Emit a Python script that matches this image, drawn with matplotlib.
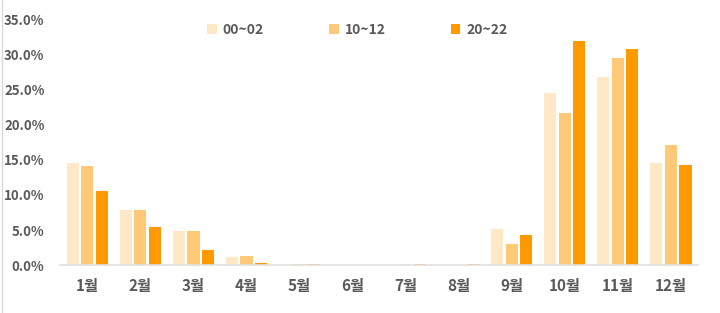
import numpy as np
import matplotlib
matplotlib.use("Agg")
import matplotlib.pyplot as plt
from matplotlib.ticker import FuncFormatter

plt.rcParams['font.family'] = ['Noto Sans CJK KR', 'DejaVu Sans']

# -------------------
# 데이터
# -------------------
months = ['1월', '2월', '3월', '4월', '5월', '6월', '7월', '8월', '9월', '10월', '11월', '12월']
series_names = ['00~02', '10~12', '20~22']
s_00_02 = [14.6, 7.8, 4.8, 1.1, 0.05, 0.0, 0.05, 0.05, 5.1, 24.5, 26.8, 14.5]
s_10_12 = [14.1, 7.9, 4.8, 1.3, 0.1, 0.0, 0.0, 0.0, 3.0, 21.7, 29.5, 17.1]
s_20_22 = [10.5, 5.4, 2.2, 0.3, 0.15, 0.0, 0.15, 0.15, 4.3, 31.9, 30.8, 14.3]
colors = ['#FFE8C6', '#FFC978', '#FF9900']

# -------------------
# 시각화
# -------------------
fig = plt.figure(figsize=(7.2, 3.13), dpi=100)
ax = fig.add_axes([0.083, 0.153, 0.887, 0.784])

x = np.arange(len(months))
w = 0.23
step = 0.275
for i, (vals, name, c) in enumerate(zip([s_00_02, s_10_12, s_20_22], series_names, colors)):
    ax.bar(x + (i - 1) * step, np.array(vals) / 100, width=w, color=c, label=name, zorder=2)

ax.set_xlim(-0.52, 11.52)
ax.set_ylim(0, 0.35)
ax.set_yticks(np.arange(0, 0.351, 0.05))
ax.yaxis.set_major_formatter(FuncFormatter(lambda v, p: f"{v*100:.1f}%"))
ax.set_xticks(x)
ax.set_xticklabels(months)

for s in ['top', 'right', 'left']:
    ax.spines[s].set_visible(False)
ax.spines['bottom'].set_color('#E0E0E0')
ax.spines['bottom'].set_linewidth(1.2)
ax.tick_params(axis='both', length=0, labelcolor='#595959', labelsize=9.5)
ax.tick_params(axis='x', labelsize=11, pad=9)
ax.tick_params(axis='y', pad=11)
for lab in ax.get_xticklabels() + ax.get_yticklabels():
    lab.set_fontweight('bold')

leg = ax.legend(loc='upper left', bbox_to_anchor=(0.288, 0.927), bbox_transform=fig.transFigure,
                ncol=3, frameon=False, borderpad=0, borderaxespad=0,
                handlelength=0.7, handleheight=0.7, handletextpad=0.4, columnspacing=4.7,
                prop={'size': 10, 'weight': 'bold'})
for t in leg.get_texts():
    t.set_color('#595959')

# 왼쪽 테두리선
fig.add_artist(plt.Line2D([0.003, 0.003], [0, 1], color='#D9D9D9', lw=1))

fig.savefig('out.png', dpi=100)
